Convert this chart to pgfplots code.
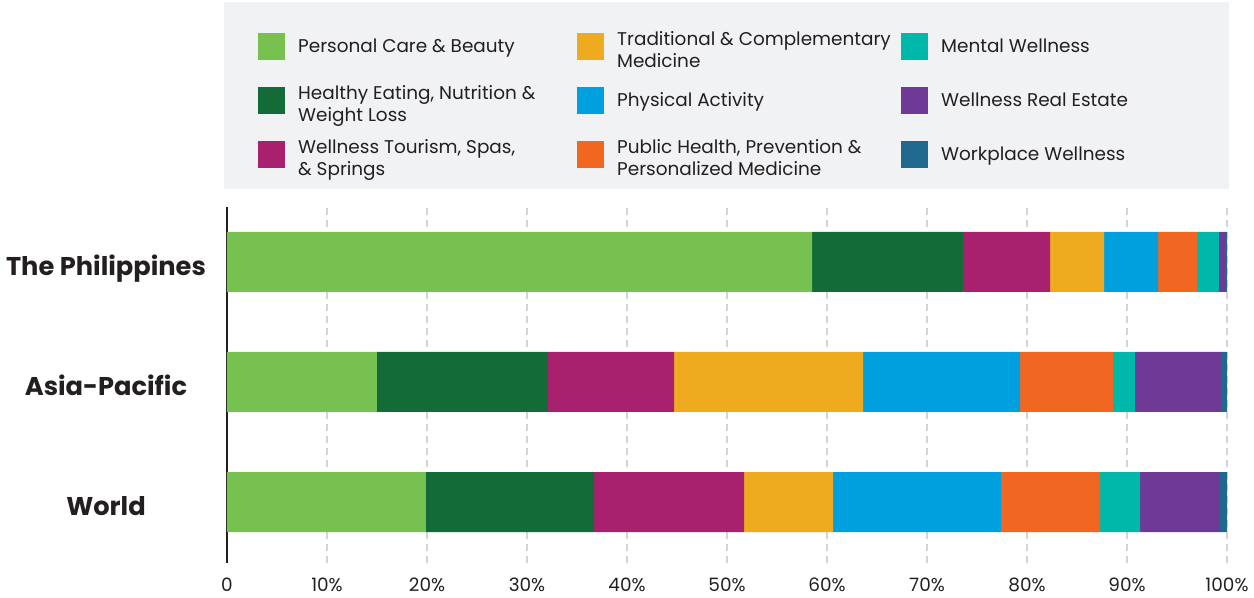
\documentclass[border=0pt]{standalone}
\usepackage{fontspec}
\setmainfont{Poppins}
\usepackage{pgfplots}
\pgfplotsset{compat=1.18}
\definecolor{cPC}{HTML}{76C150}
\definecolor{cHE}{HTML}{136B37}
\definecolor{cWT}{HTML}{A8216E}
\definecolor{cTC}{HTML}{EEAB20}
\definecolor{cPA}{HTML}{00A0DF}
\definecolor{cPH}{HTML}{F16722}
\definecolor{cMW}{HTML}{00B8AA}
\definecolor{cRE}{HTML}{6F3A95}
\definecolor{cWW}{HTML}{21688F}
\definecolor{legbg}{HTML}{F1F2F4}
\definecolor{txt}{HTML}{231F20}
\definecolor{gridc}{HTML}{D4D4D4}
\newcommand{\E}[3]{\makebox[#1][l]{\raisebox{#2}{\begin{tabular}{@{}l@{}}#3\end{tabular}}}}
\begin{document}
\hyphenpenalty=10000
\exhyphenpenalty=10000
\hbadness=10000
\hfuzz=100pt
\begin{tikzpicture}[x=1bp,y=1bp]
\path[use as bounding box] (-227,-35) rectangle (1027,563);
\fill[legbg] (-3,374) rectangle (1002,561);
\begin{axis}[
  at={(0,0)}, anchor=south west,
  scale only axis, width=1000bp, height=356bp,
  xmin=0, xmax=100, ymin=-0.508, ymax=2.458,
  xbar stacked, bar width=0.5,
  axis lines=left,
  axis line style={-},
  x axis line style={draw=none},
  y axis line style={draw=txt, line width=2.5bp},
  xtick={0,10,...,100},
  xticklabels={0,10\%,20\%,30\%,40\%,50\%,60\%,70\%,80\%,90\%,100\%},
  ytick={0,1,2},
  yticklabels={World,Asia-Pacific,The Philippines},
  major tick length=0pt,
  xmajorgrids,
  grid style={draw=gridc, line width=1.3bp, dash pattern=on 7bp off 5bp},
  xticklabel style={font=\fontsize{18.5}{22}\selectfont, text=txt, inner sep=0pt, anchor=north, yshift=-15bp},
  yticklabel style={font=\fontsize{25.8}{30}\selectfont\bfseries, text=txt, inner sep=0pt, anchor=base, xshift=-121bp, yshift=-13.5bp},
  legend columns=3, transpose legend,
  legend image code/.code={\fill[#1] (0bp,-13.5bp) rectangle (27bp,13.5bp);},
  legend style={at={(0.031,1.528)}, anchor=north west, draw=none, fill=none, inner sep=0pt,
    row sep=0pt,
    nodes={inner sep=0pt, minimum height=54bp, font=\fontsize{18.5}{22}\selectfont, text=txt},
    /tikz/every odd column/.append style={column sep=13bp},
    /tikz/every even column/.append style={column sep=13bp}},
]
\addplot[fill=cPC, draw=none] coordinates {(19.9,0) (15.0,1) (58.5,2)};
\addlegendentry{\E{266bp}{1.5bp}{Personal Care \& Beauty}}
\addplot[fill=cHE, draw=none] coordinates {(16.8,0) (17.1,1) (15.1,2)};
\addlegendentry{\E{266bp}{3.5bp}{Healthy Eating, Nutrition \&\\Weight Loss}}
\addplot[fill=cWT, draw=none] coordinates {(15.0,0) (12.6,1) (8.7,2)};
\addlegendentry{\E{266bp}{3.5bp}{Wellness Tourism, Spas,\\\& Springs}}
\addplot[fill=cTC, draw=none] coordinates {(8.9,0) (18.9,1) (5.4,2)};
\addlegendentry{\E{271bp}{3.5bp}{Traditional \& Complementary\\Medicine}}
\addplot[fill=cPA, draw=none] coordinates {(16.8,0) (15.7,1) (5.4,2)};
\addlegendentry{\E{271bp}{1bp}{Physical Activity}}
\addplot[fill=cPH, draw=none] coordinates {(9.9,0) (9.3,1) (3.9,2)};
\addlegendentry{\E{271bp}{3.5bp}{Public Health, Prevention \&\\Personalized Medicine}}
\addplot[fill=cMW, draw=none] coordinates {(4.0,0) (2.2,1) (2.2,2)};
\addlegendentry{\E{230bp}{1.5bp}{Mental Wellness}}
\addplot[fill=cRE, draw=none] coordinates {(7.9,0) (8.6,1) (0.6,2)};
\addlegendentry{\E{230bp}{1bp}{Wellness Real Estate}}
\addplot[fill=cWW, draw=none] coordinates {(0.8,0) (0.6,1) (0.2,2)};
\addlegendentry{\E{230bp}{1bp}{Workplace Wellness}}
\end{axis}
\end{tikzpicture}
\end{document}
